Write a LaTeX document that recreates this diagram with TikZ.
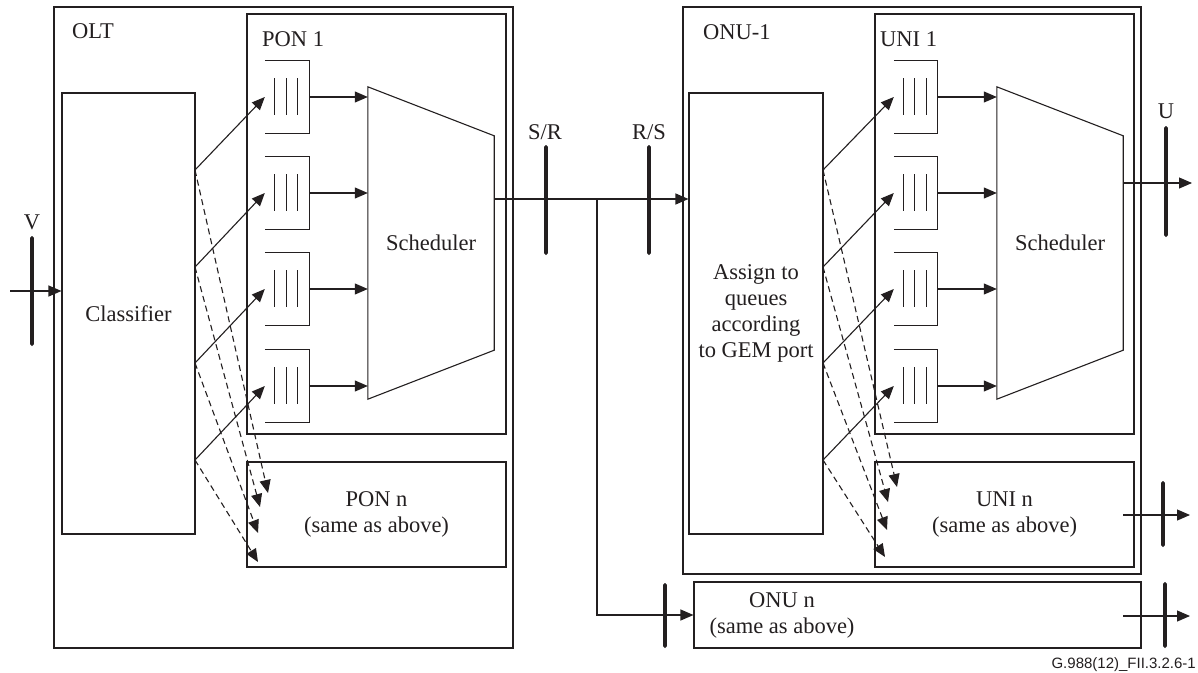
\documentclass[tikz,border=0pt]{standalone}
\usepackage{fontspec}
\setmainfont{Liberation Serif}
\newfontfamily\tagfont{Liberation Sans}
\usepackage{tikz}
\usetikzlibrary{arrows.meta,calc}
\definecolor{ink}{HTML}{231F20}
\newcommand{\figfont}{\fontsize{22.5}{26}\selectfont}
\tikzset{
  box/.style={draw=ink,line width=1.1pt,inner sep=0pt,font=\figfont,
              text=ink,align=center},
  queue/.style={minimum width=44pt,minimum height=73pt,inner sep=0pt},
  sched/.style={minimum width=126pt,minimum height=312pt,inner sep=0pt,
                font=\figfont,text=ink},
  lbl/.style={font=\figfont,text=ink,inner sep=0pt},
  refbar/.style={fill=ink,minimum width=3.6pt,inner sep=0pt,
                 rounded corners=1.6pt},
  qline/.style={draw=ink,line width=1.1pt},
  arr/.style={-{Triangle[length=13pt,width=11pt]},line width=1.1pt,draw=ink},
  darr/.style={arr,dash pattern=on 6pt off 4pt}
}

\begin{document}
\begin{tikzpicture}[x=1pt,y=-1pt]
    \path[use as bounding box,fill=white] (0,0) rectangle (1198,672);
    % OLT side
    \node[box,minimum width=459pt,minimum height=641pt] (olt) at (283.5,327.5) {};
    \node[box,minimum width=259pt,minimum height=420pt] (pon1) at (376.5,224) {};
    \node[box,minimum width=259pt,minimum height=105pt] (ponn) at (376.5,514.5)
      {PON n\\(same as above)};
    \node[box,minimum width=133pt,minimum height=441pt] (ocls) at (128.5,313.5)
      {Classifier};
    \node[lbl,anchor=west] (oltlbl) at (72,31) {OLT};
    \node[lbl,anchor=west] (pon1lbl) at (262,39) {PON 1};
    \node[sched] (osch) at (431,243) {Scheduler};
    \draw[qline] (osch.north west) -- ($(osch.north east)+(0,49)$)
      -- ($(osch.south east)+(0,-49)$) -- (osch.south west) -- cycle;
    \foreach \i/\qy/\sy/\tx/\ty in {1/97/170/268/493,2/193/267/260/507,
                                   3/289/363/258/533,4/386/460/258/562}{
      \node[queue] (oq\i) at (287,\qy) {};
      \draw[qline] (oq\i.north west) -- (oq\i.north east) -- (oq\i.south east)
        -- (oq\i.south west);
      \foreach \dx in {10,22,33}
        \draw[qline] ($(oq\i.west)+(\dx,-19)$) -- ($(oq\i.west)+(\dx,18)$);
      \draw[arr] (oq\i.east) -- (oq\i.east -| osch.west);
      \coordinate (os\i) at (195,\sy);
      \coordinate (odt\i) at (\tx,\ty);
      \draw[arr] (os\i) -- (oq\i.west);
      \draw[darr] (os\i) -- (odt\i);
    }
    \node[refbar,minimum height=110pt] (vbar) at (32,291) {};
    \node[lbl] (vlbl) at (32,222) {V};
    \coordinate (vin) at (10,291);
    \draw[arr] (vin) -- (vin -| ocls.west);
    % ODN
    \node[refbar,minimum height=110pt] (srbar) at (546,200) {};
    \node[refbar,minimum height=110pt] (rsbar) at (649,200) {};
    \node[lbl] (srlbl) at (545,132) {S/R};
    \node[lbl] (rslbl) at (649,132) {R/S};
    % ONU side
    \node[box,minimum width=458pt,minimum height=567pt] (onu) at (912,290.5) {};
    \node[box,minimum width=259pt,minimum height=420pt] (uni1) at (1004.5,224) {};
    \node[box,minimum width=259pt,minimum height=105pt] (unin) at (1004.5,514.5)
      {UNI n\\(same as above)};
    \node[box,minimum width=134pt,minimum height=441pt] (asg) at (756,313.5)
      {Assign to\\queues\\according\\to GEM port};
    \node[box,minimum width=447pt,minimum height=66pt] (onun) at (917.5,615) {};
    \node[lbl,align=center] (onuntxt) at (782,615) {ONU n\\(same as above)};
    \node[lbl,anchor=west] (onulbl) at (703,32) {ONU-1};
    \node[lbl,anchor=west] (uni1lbl) at (880,39) {UNI 1};
    \node[sched] (usch) at (1060,243) {Scheduler};
    \draw[qline] (usch.north west) -- ($(usch.north east)+(0,49)$)
      -- ($(usch.south east)+(0,-49)$) -- (usch.south west) -- cycle;
    \foreach \i/\qy/\sy/\tx/\ty in {1/97/170/897/487,2/193/267/888/502,
                                   3/289/363/887/530,4/386/460/885/557}{
      \node[queue,minimum width=43pt] (uq\i) at (915.5,\qy) {};
      \draw[qline] (uq\i.north west) -- (uq\i.north east) -- (uq\i.south east)
        -- (uq\i.south west);
      \foreach \dx in {10,21,33}
        \draw[qline] ($(uq\i.west)+(\dx,-19)$) -- ($(uq\i.west)+(\dx,18)$);
      \draw[arr] (uq\i.east) -- (uq\i.east -| usch.west);
      \coordinate (us\i) at (823,\sy);
      \coordinate (udt\i) at (\tx,\ty);
      \draw[arr] (us\i) -- (uq\i.west);
      \draw[darr] (us\i) -- (udt\i);
    }
    % main line and branch
    \coordinate (oout) at (494,199);
    \coordinate (br) at (597,199);
    \draw[arr] (oout) -- (oout -| asg.west);
    \draw[arr] (br) |- (onun.west);
    \node[refbar,minimum height=65pt] (onbar1) at (665,615.5) {};
    % outputs
    \coordinate (uend) at (1192,183);
    \coordinate (unend) at (1190,515);
    \coordinate (onend) at (1190,616);
    \draw[arr] (usch.east |- uend) -- (uend);
    \draw[arr] (usch.east |- unend) -- (unend);
    \draw[arr] (usch.east |- onend) -- (onend);
    \node[refbar,minimum height=111pt] (ubar) at (1166,181.5) {};
    \node[refbar,minimum height=66pt] (unbar) at (1163,514) {};
    \node[refbar,minimum height=66pt] (onbar2) at (1165,615) {};
    \node[lbl] (ulbl) at (1166,111) {U};
    \node[anchor=base east,inner sep=0pt,text=ink,
          font=\tagfont\fontsize{15}{18}\selectfont] (tag) at (1196,668)
      {G.988(12)\_FII.3.2.6-1};
  \end{tikzpicture}
\end{document}
